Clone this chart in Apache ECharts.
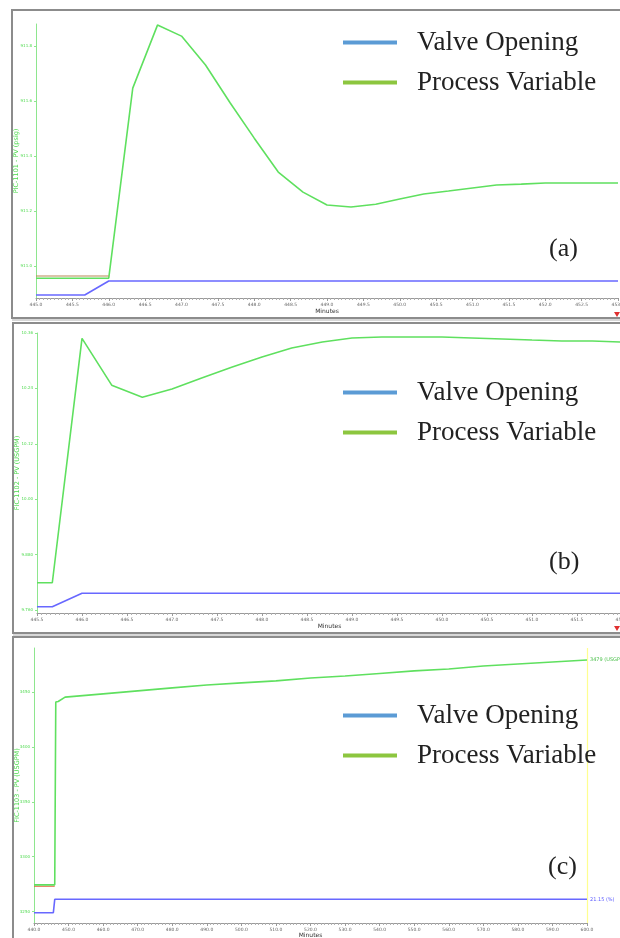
<!DOCTYPE html>
<html>
<head>
<meta charset="utf-8">
<script src="https://cdn.jsdelivr.net/npm/echarts@6/dist/echarts.min.js"></script>
<style>
html,body{margin:0;padding:0;background:#fff;}
#main{width:620px;height:938px;}
</style>
</head>
<body>
<div id="main"></div>
<script>
// ---------- DATA ----------
// Panel (a) PIC-1101
const timeA_PV = [445.0, 446.0, 446.33, 446.67, 447.0, 447.33, 447.67, 448.0, 448.33, 448.67, 449.0, 449.33, 449.67, 450.0, 450.33, 450.67, 451.0, 451.33, 451.67, 452.0, 452.33, 452.67, 453.0];
const pvA = [910.956, 910.956, 911.647, 911.876, 911.836, 911.731, 911.593, 911.465, 911.342, 911.269, 911.222, 911.215, 911.225, 911.244, 911.262, 911.273, 911.284, 911.295, 911.298, 911.302, 911.302, 911.302, 911.302];
const timeA_OP = [445.0, 445.67, 446.0, 453.0];
const opA = [20.0, 20.0, 21.0, 21.0];
const timeA_SP = [445.0, 446.0];
const spA = [910.964, 910.964];
const yTicksA = [911.0, 911.2, 911.4, 911.6, 911.8];

// Panel (b) FIC-1102
const timeB_PV = [445.5, 445.67, 446.0, 446.33, 446.67, 447.0, 447.33, 447.67, 448.0, 448.33, 448.67, 449.0, 449.33, 449.67, 450.0, 450.33, 450.67, 451.0, 451.33, 451.67, 452.0];
const pvB = [9.819, 9.819, 10.3485, 10.247, 10.221, 10.2387, 10.2625, 10.2864, 10.308, 10.3275, 10.3405, 10.3492, 10.3513, 10.3513, 10.3513, 10.3492, 10.347, 10.3448, 10.3427, 10.3427, 10.3405];
const timeB_OP = [445.5, 445.67, 446.0, 452.0];
const opB = [20.0, 20.0, 21.0, 21.0];
const yTicksB = [9.76, 9.88, 10.0, 10.12, 10.24, 10.36];

// Panel (c) FIC-1103
const timeC_PV = [440, 446.0, 446.3, 447.0, 449.0, 460, 470, 480, 490, 500, 510, 520, 530, 540, 550, 560, 570, 580, 590, 600];
const pvC = [3274.3, 3274.3, 3441.0, 3441.5, 3445.5, 3448.5, 3451.2, 3453.9, 3456.6, 3458.5, 3460.3, 3463.0, 3464.8, 3467.1, 3469.4, 3471.2, 3473.9, 3475.7, 3477.5, 3479.3];
const timeC_OP = [440, 445.6, 446.0, 600];
const opC = [20.0, 20.0, 21.15, 21.15];
const timeC_SP = [440, 446.0];
const spC = [3273.0, 3273.0];
const yTicksC = [3250, 3300, 3350, 3400, 3450];

const legendNames = ['Valve Opening', 'Process Variable'];
const panelTags = ['(a)', '(b)', '(c)'];
const yNames = ['PIC-1101 - PV (psig)', 'FIC-1102 - PV (USGPM)', 'FIC-1103 - PV (USGPM)'];

// ---------- STYLE ----------
const PV_COLOR = '#5fe05f';
const OP_COLOR = '#6868ff';
const SP_A_COLOR = '#b88a55';
const SP_C_COLOR = '#e0603c';
const LEG_BLUE = '#5b9bd5';
const LEG_GREEN = '#8cc63f';

const pairs = (t, v) => t.map((x, i) => [x, v[i]]);

function xAx(gi, min, max, interval, nameGap) {
  return {
    type: 'value', gridIndex: gi, min: min, max: max, interval: interval,
    name: 'Minutes', nameLocation: 'middle', nameGap: nameGap, nameMoveOverlap: false,
    nameTextStyle: { fontSize: 6, color: '#333', fontFamily: 'DejaVu Sans' },
    axisLine: { lineStyle: { color: '#9a9a9a', width: 1 } },
    axisTick: { length: 3, lineStyle: { color: '#9a9a9a' } },
    minorTick: { show: true, splitNumber: 10, length: 2, lineStyle: { color: '#b0b0b0' } },
    splitLine: { show: false },
    axisLabel: { fontSize: 4.5, color: '#666', margin: 4, fontFamily: 'DejaVu Sans',
      formatter: v => v.toFixed(1), showMaxLabel: true, showMinLabel: true }
  };
}

function yAx(gi, min, max, ticks, name, fmt, nameGap) {
  return {
    type: 'value', gridIndex: gi, min: min, max: max,
    name: name, nameLocation: 'middle', nameGap: nameGap, nameMoveOverlap: false,
    nameTextStyle: { fontSize: 6.5, color: '#4cd94c', fontFamily: 'DejaVu Sans' },
    axisLine: { show: true, lineStyle: { color: '#8ee68e', width: 1 } },
    axisTick: { show: true, length: 2, customValues: ticks, lineStyle: { color: '#8ee68e' } },
    splitLine: { show: false },
    axisLabel: { fontSize: 4, color: '#4cd94c', margin: 4, customValues: ticks, formatter: fmt, fontFamily: 'DejaVu Sans' }
  };
}

function yHidden(gi, min, max) {
  return { type: 'value', gridIndex: gi, min: min, max: max, show: false, splitLine: { show: false } };
}

function legendFor(top) {
  return {
    top: top, left: 343, orient: 'vertical', icon: 'rect', padding: 0, z: 20,
    itemWidth: 54, itemHeight: 4, itemGap: 13, selectedMode: false,
    textStyle: { fontFamily: 'Liberation Serif', fontSize: 27, color: '#222', lineHeight: 27, padding: [0, 0, 0, 15] },
    data: [
      { name: legendNames[0], itemStyle: { color: LEG_BLUE } },
      { name: legendNames[1], itemStyle: { color: LEG_GREEN } }
    ]
  };
}

function line(name, xi, yi, data, color, width, z, extra) {
  return Object.assign({
    type: 'line', name: name, xAxisIndex: xi, yAxisIndex: yi, data: data,
    showSymbol: false, symbol: 'none', animation: false, z: z,
    lineStyle: { color: color, width: width }, itemStyle: { color: color }
  }, extra || {});
}

const chart = echarts.init(document.getElementById('main'), null, { renderer: 'canvas' });

const option = {
  backgroundColor: '#fff',
  animation: false,
  grid: [
    { left: 36, top: 24, width: 582, height: 274, outerBoundsMode: 'none', containLabel: false },
    { left: 37, top: 333, width: 585, height: 280, outerBoundsMode: 'none', containLabel: false },
    { left: 34, top: 648, width: 553, height: 275, outerBoundsMode: 'none', containLabel: false }
  ],
  xAxis: [
    xAx(0, 445.0, 453.0, 0.5, 10),
    xAx(1, 445.5, 452.0, 0.5, 10),
    xAx(2, 440, 600, 10, 9)
  ],
  yAxis: [
    yAx(0, 910.884, 911.880, yTicksA, yNames[0], v => v.toFixed(1), 16),
    yHidden(0, 19.786, 39.357),
    yAx(1, 9.7535, 10.36, yTicksB, yNames[1], v => v.toPrecision(4), 16),
    yHidden(1, 19.53, 40.43),
    yAx(2, 3239.5, 3490.3, yTicksC, yNames[2], v => v.toFixed(0), 13),
    yHidden(2, 19.116, 42.72)
  ],
  legend: [legendFor(29), legendFor(379), legendFor(702)],
  series: [
    line('Valve Opening', 0, 1, pairs(timeA_OP, opA), OP_COLOR, 1.6, 3),
    line('Process Variable', 0, 0, pairs(timeA_PV, pvA), PV_COLOR, 1.6, 3),
    line('SP', 0, 0, pairs(timeA_SP, spA), SP_A_COLOR, 1.2, 4),

    line('Valve Opening', 1, 3, pairs(timeB_OP, opB), OP_COLOR, 1.6, 3),
    line('Process Variable', 1, 2, pairs(timeB_PV, pvB), PV_COLOR, 1.6, 3),

    line('Valve Opening', 2, 5, pairs(timeC_OP, opC), OP_COLOR, 1.6, 3, {
      endLabel: { show: true, fontSize: 5, color: '#6060ff', distance: 3, fontFamily: 'DejaVu Sans',
        formatter: p => p.value[1].toFixed(2) + ' (%)' }
    }),
    line('Process Variable', 2, 4, pairs(timeC_PV, pvC), PV_COLOR, 1.6, 3, {
      endLabel: { show: true, fontSize: 5, color: '#4cc04c', distance: 3, fontFamily: 'DejaVu Sans',
        formatter: p => p.value[1].toFixed(0) + ' (USGPM)' },
      markLine: { silent: true, symbol: 'none', animation: false, z: 1,
        lineStyle: { color: '#ffff90', width: 1.2, type: 'solid' }, label: { show: false },
        data: [{ xAxis: 600 }] }
    }),
    line('SP', 2, 4, pairs(timeC_SP, spC), SP_C_COLOR, 1.2, 2)
  ],
  graphic: [
    { type: 'rect', shape: { x: 12, y: 10, width: 620, height: 308 }, style: { fill: 'none', stroke: '#8c8c8c', lineWidth: 2 }, z: 1 },
    { type: 'line', shape: { x1: 12, y1: 320, x2: 632, y2: 320 }, style: { stroke: '#b0b0b0', lineWidth: 1 }, z: 1 },
    { type: 'rect', shape: { x: 13, y: 323, width: 620, height: 310 }, style: { fill: 'none', stroke: '#8c8c8c', lineWidth: 2 }, z: 1 },
    { type: 'line', shape: { x1: 13, y1: 635, x2: 632, y2: 635 }, style: { stroke: '#b0b0b0', lineWidth: 1 }, z: 1 },
    { type: 'rect', shape: { x: 13, y: 637, width: 620, height: 310 }, style: { fill: 'none', stroke: '#8c8c8c', lineWidth: 2 }, z: 1 },
    { type: 'polygon', shape: { points: [[614, 312], [620, 312], [617, 317]] }, style: { fill: '#e03030' }, z: 5 },
    { type: 'polygon', shape: { points: [[614, 626], [620, 626], [617, 631]] }, style: { fill: '#e03030' }, z: 5 },
    { type: 'text', left: 549, top: 236, style: { text: panelTags[0], font: '26px "Liberation Serif"', fill: '#222' }, z: 10 },
    { type: 'text', left: 549, top: 549, style: { text: panelTags[1], font: '26px "Liberation Serif"', fill: '#222' }, z: 10 },
    { type: 'text', left: 548, top: 854, style: { text: panelTags[2], font: '26px "Liberation Serif"', fill: '#222' }, z: 10 }
  ]
};

chart.setOption(option);
</script>
</body>
</html>
